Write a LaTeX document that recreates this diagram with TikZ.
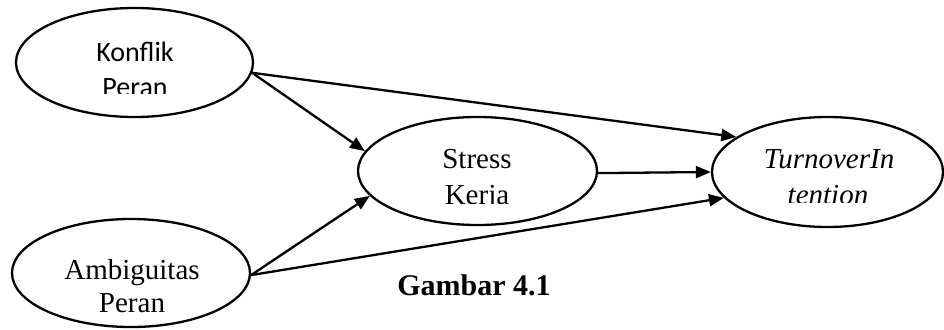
\documentclass[tikz,border=0pt]{standalone}
\usepackage{fontspec}
\setmainfont{Liberation Serif}
\newfontfamily\calib{Carlito}
\usetikzlibrary{shapes.geometric,arrows.meta}
\begin{document}
\begin{tikzpicture}[x=1pt,y=-1pt,
  var/.style={draw,ellipse,line width=2.3pt,inner sep=0pt},
  lbl/.style={anchor=base,inner sep=0pt,font=\fontsize{29}{29}\selectfont},
  link/.style={line width=2.3pt,-{Triangle[length=15pt,width=12pt]}}]
\useasboundingbox (0,0) rectangle (944,329);
% variables
\node[var,minimum width=237pt,minimum height=109pt] (konflik) at (134.5,62.5) {};
\node[var,minimum width=239pt,minimum height=108pt] (stress) at (477.5,171) {};
\node[var,minimum width=231pt,minimum height=110pt] (turnover) at (827.5,172) {};
\node[var,minimum width=238pt,minimum height=108pt] (ambig) at (131,273) {};
% labels, each cut off by its text box
\begin{scope}
  \clip (20,20) rectangle (250,93);
  \node[lbl,font=\calib\fontsize{28}{28}\selectfont] (t1) at (135,61) {Konflik};
  \node[lbl,font=\calib\fontsize{28}{28}\selectfont] (t2) at (135,96) {Peran};
\end{scope}
\begin{scope}
  \clip (370,130) rectangle (590,203);
  \node[lbl] (t3) at (477,168) {Stress};
  \node[lbl] (t4) at (477,204) {Kerja};
\end{scope}
\begin{scope}
  \clip (720,130) rectangle (940,202);
  \node[lbl] (t5) at (829,168) {\itshape TurnoverIn};
  \node[lbl] (t6) at (828,204) {\itshape tention};
\end{scope}
\node[lbl] (t7) at (132,279) {Ambiguitas};
\node[lbl] (t8) at (132,312) {Peran};
\node[lbl,font=\bfseries\fontsize{30}{30}\selectfont] (cap) at (474,295) {Gambar 4.1};
% paths
\draw[link] (konflik.-5) -- (stress.170.4);
\draw[link] (konflik.-5) -- (turnover.159.7);
\draw[link] (stress.-1) -- (turnover.180);
\draw[link] (ambig.-1) -- (stress.193.4);
\draw[link] (ambig.-1) -- (turnover.194.5);
\end{tikzpicture}
\end{document}
